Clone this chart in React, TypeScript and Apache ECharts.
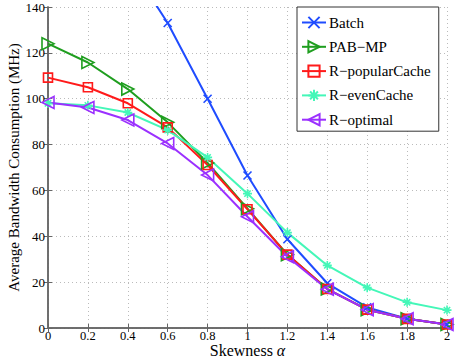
import React, { useEffect, useRef } from "react";
import * as echarts from "echarts";

const skewness = [0, 0.2, 0.4, 0.6, 0.8, 1.0, 1.2, 1.4, 1.6, 1.8, 2.0];
const batch = [225, 190, 160, 133, 100, 66.5, 38.7, 19.5, 9, 4, 1.5];
const pabMp = [124, 115.8, 104.2, 89.7, 72, 52, 32, 17, 8, 4, 1.5];
const rPopular = [109.2, 105, 98, 87.5, 71.1, 51.8, 32, 17, 8, 4, 1.5];
const rEven = [98, 97.1, 94, 86.3, 74.4, 58.6, 41.6, 27.3, 17.6, 11.2, 7.8];
const rOptimal = [98.4, 96.2, 90.7, 80.5, 66.7, 48.5, 31.1, 16.9, 8, 4, 1.5];

const FONT = "'Liberation Serif', 'Times New Roman', Times, serif";

const SYM_X = "path://M0,0L10,10M10,0L0,10";
const SYM_TRI_R = "path://M0,0L10,5L0,10Z";
const SYM_TRI_L = "path://M10,0L0,5L10,10Z";
const SYM_STAR = "path://M5,0L5,10M0,5L10,5M1.5,1.5L8.5,8.5M8.5,1.5L1.5,8.5";

function mk(name: string, data: number[], color: string, symbol: string, size: number) {
  return {
    name,
    type: "line",
    data: data.map((v, i) => [skewness[i], v]),
    symbol,
    symbolSize: size,
    clip: true,
    lineStyle: { color, width: 2 },
    itemStyle: { color: "rgba(0,0,0,0)", borderColor: color, borderWidth: 1.6 },
    emphasis: { disabled: true },
  };
}

export default function App() {
  const ref = useRef<HTMLDivElement>(null);
  useEffect(() => {
    const chart = echarts.init(ref.current!, undefined, { renderer: "svg" });
    const axisLine = { show: true, lineStyle: { color: "#666", width: 1.5 } };
    const tick = { show: true, inside: true, length: 4, lineStyle: { color: "#666" } };
    chart.setOption({
      animation: false,
      backgroundColor: "#fff",
      textStyle: { fontFamily: FONT },
      grid: { left: 48, right: 8, top: 7, bottom: 32, containLabel: false, outerBoundsMode: "none" },
      legend: {
        orient: "vertical",
        left: 297,
        top: 7,
        itemWidth: 24,
        itemHeight: 14,
        itemGap: 9.3,
        padding: [8, 8, 4, 4],
        backgroundColor: "#fff",
        borderColor: "#333",
        borderWidth: 1,
        textStyle: { fontFamily: FONT, fontSize: 15, lineHeight: 14, color: "#000", padding: [0, 0, 0, -2] },
      },
      xAxis: [
        {
          type: "value",
          min: 0,
          max: 2,
          interval: 0.2,
          name: "{a|Skewness }{b|α}",
          nameLocation: "middle",
          nameGap: 15,
          nameMoveOverlap: false,
          nameTextStyle: {
            lineHeight: 14,
            rich: {
              a: { fontFamily: FONT, fontSize: 16, lineHeight: 14, color: "#000" },
              b: { fontFamily: FONT, fontSize: 16, lineHeight: 14, color: "#000", fontStyle: "italic" },
            },
          },
          axisLine,
          axisTick: tick,
          axisLabel: {
            fontFamily: FONT,
            fontSize: 12.5,
            lineHeight: 12,
            color: "#000",
            margin: 2,
            formatter: (v: number) => String(Math.round(v * 10) / 10),
          },
          splitLine: { show: true, lineStyle: { color: "#bbb", type: [1, 3], width: 1 } },
        },
        {
          type: "value",
          position: "top",
          min: 0,
          max: 2,
          interval: 0.2,
          axisLine,
          axisTick: tick,
          axisLabel: { show: false },
          splitLine: { show: false },
        },
      ],
      yAxis: [
        {
          type: "value",
          min: 0,
          max: 140,
          interval: 20,
          name: "Average Bandwidth Consumption (MHz)",
          nameLocation: "middle",
          nameGap: 27,
          nameMoveOverlap: false,
          nameTextStyle: { fontFamily: FONT, fontSize: 15, color: "#000" },
          axisLine,
          axisTick: tick,
          axisLabel: { fontFamily: FONT, fontSize: 13, color: "#000", margin: 3 },
          splitLine: { show: true, lineStyle: { color: "#bbb", type: [1, 3], width: 1 } },
        },
        {
          type: "value",
          position: "right",
          min: 0,
          max: 140,
          interval: 20,
          axisLine,
          axisTick: tick,
          axisLabel: { show: false },
          splitLine: { show: false },
        },
      ],
      series: [
        mk("Batch", batch, "#1f4cff", SYM_X, 8),
        mk("PAB−MP", pabMp, "#1f9e1f", SYM_TRI_R, 12),
        mk("R−popularCache", rPopular, "#ff1a1a", "rect", 9),
        mk("R−evenCache", rEven, "#44f7b8", SYM_STAR, 9),
        mk("R−optimal", rOptimal, "#9b30ff", SYM_TRI_L, 12),
      ],
    });
    return () => chart.dispose();
  }, []);
  return <div ref={ref} style={{ width: 455, height: 360, position: "fixed", left: 0, top: 0 }} />;
}
